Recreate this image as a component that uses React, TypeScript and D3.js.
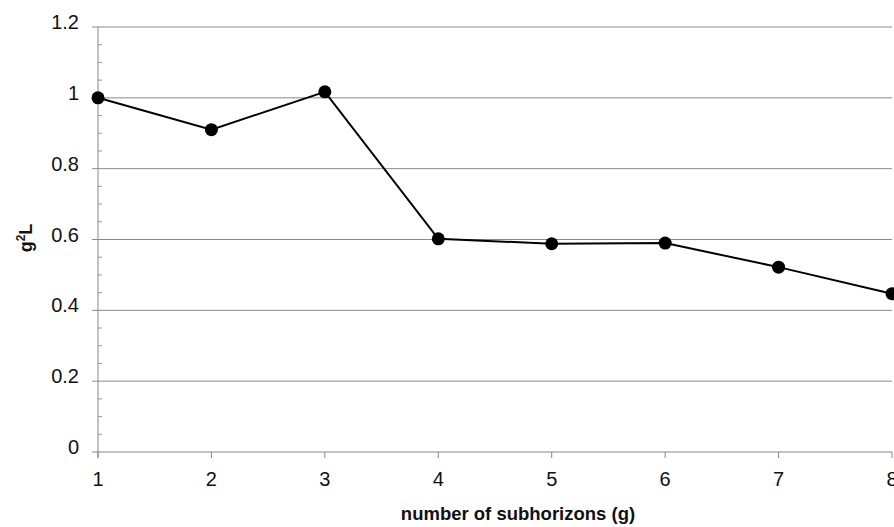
import React from "react";
import * as d3 from "d3";

const subhorizons = [1, 2, 3, 4, 5, 6, 7, 8];
const g2L = [1.0, 0.91, 1.017, 0.602, 0.588, 0.59, 0.522, 0.447];
const yTicks = [0, 0.2, 0.4, 0.6, 0.8, 1, 1.2];

export default function App() {
  const width = 894;
  const height = 527;
  const left = 98;
  const right = 892;
  const top = 27;
  const bottom = 452;

  const x = d3.scaleLinear().domain([1, 8]).range([left, right]);
  const y = d3.scaleLinear().domain([0, 1.2]).range([bottom, top]);
  const minor = d3.range(0, 1.2001, 0.05).filter((v) => Math.round(v * 100) % 20 !== 0);

  const line = d3
    .line<number>()
    .x((_, i) => x(subhorizons[i]))
    .y((d) => y(d));

  const font = "'Liberation Sans', Arial, sans-serif";

  return (
    <svg
      width={width}
      height={height}
      style={{ position: "absolute", left: 0, top: 0, background: "#fff" }}
      fontFamily={font}
    >
      {/* grid lines */}
      {yTicks.filter((t) => t > 0).map((t) => (
        <line key={"g" + t} x1={left - 6} x2={right} y1={y(t)} y2={y(t)} stroke="#8a8a8a" strokeWidth={1} />
      ))}
      {/* y axis */}
      <line x1={left} x2={left} y1={top} y2={bottom + 6} stroke="#888" strokeWidth={1} />
      {minor.map((t) => (
        <line key={"m" + t} x1={left} x2={left + 4} y1={y(t)} y2={y(t)} stroke="#999" />
      ))}
      {yTicks.map((t) => (
        <text key={"yl" + t} x={79} y={y(t) + 2} textAnchor="end" fontSize={20} fill="#111">
          {String(t)}
        </text>
      ))}
      {/* x axis */}
      <line x1={left - 6} x2={right} y1={bottom} y2={bottom} stroke="#888" strokeWidth={1} />
      {subhorizons.map((s) => (
        <g key={"x" + s}>
          <line x1={x(s)} x2={x(s)} y1={bottom} y2={bottom + 6} stroke="#888" />
          <text x={x(s)} y={486} textAnchor="middle" fontSize={20} fill="#111">
            {s}
          </text>
        </g>
      ))}
      {/* series */}
      <path d={line(g2L) || ""} fill="none" stroke="#000" strokeWidth={2} />
      {g2L.map((v, i) => (
        <circle key={"p" + i} cx={x(subhorizons[i])} cy={y(v)} r={6.5} fill="#000" />
      ))}
      {/* titles */}
      <text x={518} y={520} textAnchor="middle" fontSize={18.5} fontWeight="bold" fill="#111">
        number of subhorizons (g)
      </text>
      <text
        transform={`translate(32, 238) rotate(-90)`}
        textAnchor="middle"
        fontSize={18}
        fontWeight="bold"
        fill="#111"
      >
        g<tspan dy={-7} fontSize={12}>2</tspan>
        <tspan dy={7}>L</tspan>
      </text>
    </svg>
  );
}
